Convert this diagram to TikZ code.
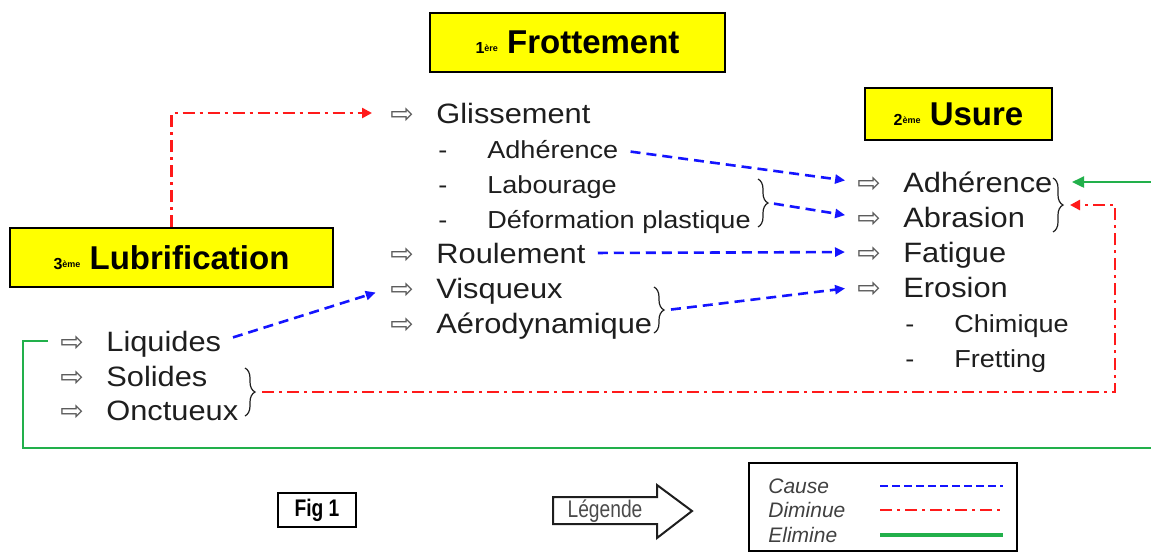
\documentclass[tikz,border=0pt]{standalone}
\usepackage{fontspec}
\setmainfont{Liberation Sans}
\newfontfamily\bodyfont{Liberation Sans}[FakeStretch=1.1]
\newfontfamily\narrowfont{Liberation Sans}[FakeStretch=0.8]
\newfontfamily\symfont{DejaVu Sans}
\usetikzlibrary{arrows.meta,positioning,decorations.pathreplacing}
\definecolor{Cause}{HTML}{1414FF}
\definecolor{Diminue}{HTML}{FF1A1A}
\definecolor{Elimine}{HTML}{22B04B}
\definecolor{TitleFill}{HTML}{FFFF00}
\definecolor{Ink}{HTML}{1E1E1E}
\definecolor{SymGray}{HTML}{5A5A5A}
\newcommand{\arr}{{\symfont\color{SymGray}⇨}}
\newcommand{\itm}[1]{\makebox[23pt][l]{\arr}#1}
\newcommand{\subitm}[1]{\makebox[24.5pt][l]{-}#1}
\newcommand{\rang}[2]{{\fontsize{8}{8}\selectfont #1\raisebox{1pt}{\fontsize{4.5}{5}\selectfont #2}}}

\begin{document}
\begin{tikzpicture}[x=0.5pt,y=-0.5pt,
  item/.style={anchor=base west,inner sep=0pt,text height=11pt,text depth=1pt,font=\bodyfont\fontsize{14}{16}\selectfont,text=Ink},
  subitem/.style={item,text height=9pt,font=\bodyfont\fontsize{12.3}{14}\selectfont},
  titlebox/.style={draw=black,line width=1.2pt,fill=TitleFill,inner sep=0pt,font=\bfseries\fontsize{16.5}{18}\selectfont},
  brk/.style={decorate,decoration={brace,amplitude=5pt},line width=0.6pt,draw=Ink},
  cause/.style={-{Triangle[length=5pt,width=4.5pt]},draw=Cause,line width=1.3pt,dash pattern=on 5pt off 3pt,shorten <=6pt,shorten >=6pt},
  diminue/.style={-{Triangle[length=5pt,width=5pt]},draw=Diminue,line width=1.3pt,dash pattern=on 6pt off 2.5pt on 1.5pt off 2.5pt},
  elimine/.style={-{Triangle[length=6pt,width=5.5pt]},draw=Elimine,line width=1.2pt},
  legtext/.style={anchor=west,inner sep=0pt,font=\itshape\fontsize{10.5}{12}\selectfont,text=Ink!85}
]
\clip (0,0) rectangle (1151,554);

% titres
\node[titlebox,minimum width=147.5pt,minimum height=29.5pt] (frot) at (577.5,42.5) {\rang{1}{ère} Frottement};
\node[titlebox,minimum width=93.5pt,minimum height=26pt] (usu) at (958.5,114) {\rang{2}{ème} Usure};
\node[titlebox,minimum width=161.5pt,minimum height=29.5pt] (lub) at (171.5,257.5) {\rang{3}{ème} Lubrification};

% frottement
\node[item] (gli) at (390,123) {\itm{Glissement}};
\node[subitem] (gadh) at (438,158) {\subitm{Adhérence}};
\node[subitem] (glab) at (438,193) {\subitm{Labourage}};
\node[subitem] (gdef) at (438,228) {\subitm{Déformation plastique}};
\node[item] (rou) at (390,263) {\itm{Roulement}};
\node[item] (vis) at (390,298) {\itm{Visqueux}};
\node[item] (aer) at (390,333) {\itm{Aérodynamique}};

% usure
\node[item] (uadh) at (857,192) {\itm{Adhérence}};
\node[item] (uabr) at (857,227) {\itm{Abrasion}};
\node[item] (ufat) at (857,262) {\itm{Fatigue}};
\node[item] (uero) at (857,297) {\itm{Erosion}};
\node[subitem] (uchi) at (905,332) {\subitm{Chimique}};
\node[subitem] (ufre) at (905,367) {\subitm{Fretting}};

% lubrification
\node[item] (liq) at (60,351) {\itm{Liquides}};
\node[item] (sol) at (60,386) {\itm{Solides}};
\node[item] (onc) at (60,420) {\itm{Onctueux}};

% accolades
\draw[brk] (758,179) -- (758,227);
\coordinate (b1) at (770,203);
\draw[brk] (654,287) -- (654,333);
\coordinate (b2) at (667,310);
\draw[brk] (1053,178) -- (1053,232);
\coordinate (b3) at (1066,205);
\coordinate (b3top) at (1070,182);
\draw[brk] (245,368) -- (245,416);
\coordinate (b4) at (258,392);

% cause
\draw[cause] (gadh.east) -- (uadh.west);
\draw[cause,shorten <=2pt] (b1) -- (uabr.west);
\draw[cause] (rou.east) -- (ufat.west);
\draw[cause,shorten <=2pt] (b2) -- (uero.west);
\draw[cause,shorten >=7.5pt] (liq.east) -- (vis.west);

% diminue
\draw[diminue,shorten >=9pt] (lub.north) |- (gli.west);
\coordinate (rc) at (1115,300);
\draw[diminue,shorten <=2pt,shorten >=2pt] (b4) -| (rc) |- (b3);

% elimine
\coordinate (gA) at (23,448);
\coordinate (gB) at (1165,448);
\draw[elimine,shorten <=6pt,shorten >=1pt] (liq.west) -| (gA) -| (gB) |- (b3top);

% legende
\node[draw=black,line width=1.2pt,minimum width=39pt,minimum height=17pt,inner sep=0pt,font=\narrowfont\bfseries\fontsize{12}{12}\selectfont] (fig) at (317,510) {Fig 1};
\draw[line width=1pt,draw=Ink] (553,497) -- (657,497) -- (657,485) -- (692,511) -- (657,538) -- (657,524) -- (553,524) -- cycle;
\node[inner sep=0pt,font=\narrowfont\fontsize{12}{13}\selectfont,text=Ink!80] (leg) at (605,511) {Légende};
\node[draw=black,line width=1.2pt,minimum width=134pt,minimum height=44pt,inner sep=0pt] (legbox) at (883,507) {};
\node[legtext] (lc) at (768,486) {Cause};
\node[legtext] (ld) at (768,510) {Diminue};
\node[legtext] (le) at (768,535) {Elimine};
\draw[draw=Cause,line width=1.4pt,dash pattern=on 4pt off 2pt] (880,486) -- (1003,486);
\draw[draw=Diminue,line width=1.2pt,dash pattern=on 6pt off 2.5pt on 1.5pt off 2.5pt] (880,510) -- (1003,510);
\draw[draw=Elimine,line width=1.6pt] (880,535) -- (1003,535);
\end{tikzpicture}
\end{document}
